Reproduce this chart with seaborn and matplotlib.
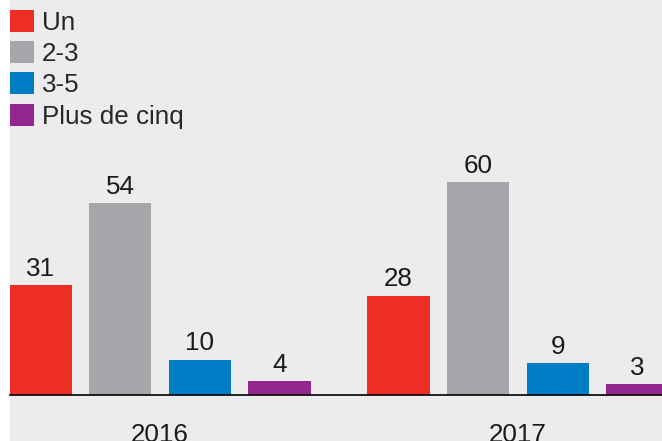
import pandas as pd
import seaborn as sns
import matplotlib.pyplot as plt

years = ["2016", "2017"]
categories = ["Un", "2-3", "3-5", "Plus de cinq"]
values_2016 = [31, 54, 10, 4]
values_2017 = [28, 60, 9, 3]
colors = ["#ee2e24", "#a5a6a9", "#017dc5", "#92278f"]

rows = []
for year, vals in zip(years, [values_2016, values_2017]):
    for cat, v in zip(categories, vals):
        rows.append({"year": year, "category": cat, "value": v})
df = pd.DataFrame(rows)

sns.set_theme(style="white")
plt.rcParams['font.family'] = ['Liberation Sans', 'DejaVu Sans']

W, H = 662, 441
fs = 18.7
fig = plt.figure(figsize=(W / 100, H / 100), dpi=100)
fig.patch.set_facecolor("white")
fig.add_artist(plt.Rectangle((10 / W, 0), 1, 1, transform=fig.transFigure,
                             facecolor="#ececec", edgecolor="none", zorder=-1))

ax = fig.add_axes([10 / W, 46 / H, 652 / W, 395 / H])
ax.set_facecolor("none")

sns.barplot(data=df, x="year", y="value", hue="category", order=years,
            hue_order=categories, palette=colors, saturation=1,
            width=0.89, gap=0.22, linewidth=0, edgecolor="none", ax=ax)

for c in ax.containers:
    ax.bar_label(c, padding=3, fontsize=fs, color="#1a1a1a")

ax.set_xlim(-0.419, 1.402)
ax.set_ylim(0, 111.3)
ax.set_xlabel("")
ax.set_ylabel("")
ax.set_yticks([])
ax.tick_params(axis="x", length=0, pad=20, labelsize=fs, labelcolor="#1a1a1a")
for s in ["top", "right", "left"]:
    ax.spines[s].set_visible(False)
ax.spines["bottom"].set_color("black")
ax.spines["bottom"].set_linewidth(1.2)

handles, labels = ax.get_legend_handles_labels()
ax.legend(handles, labels, loc="upper left", bbox_to_anchor=(10 / W, 1 - 10 / H),
          bbox_transform=fig.transFigure, frameon=False, fontsize=fs,
          borderaxespad=0, borderpad=0, handlelength=0.93, handleheight=0.93,
          handletextpad=0.3, labelspacing=0.24)

fig.savefig("out.png", dpi=100)
